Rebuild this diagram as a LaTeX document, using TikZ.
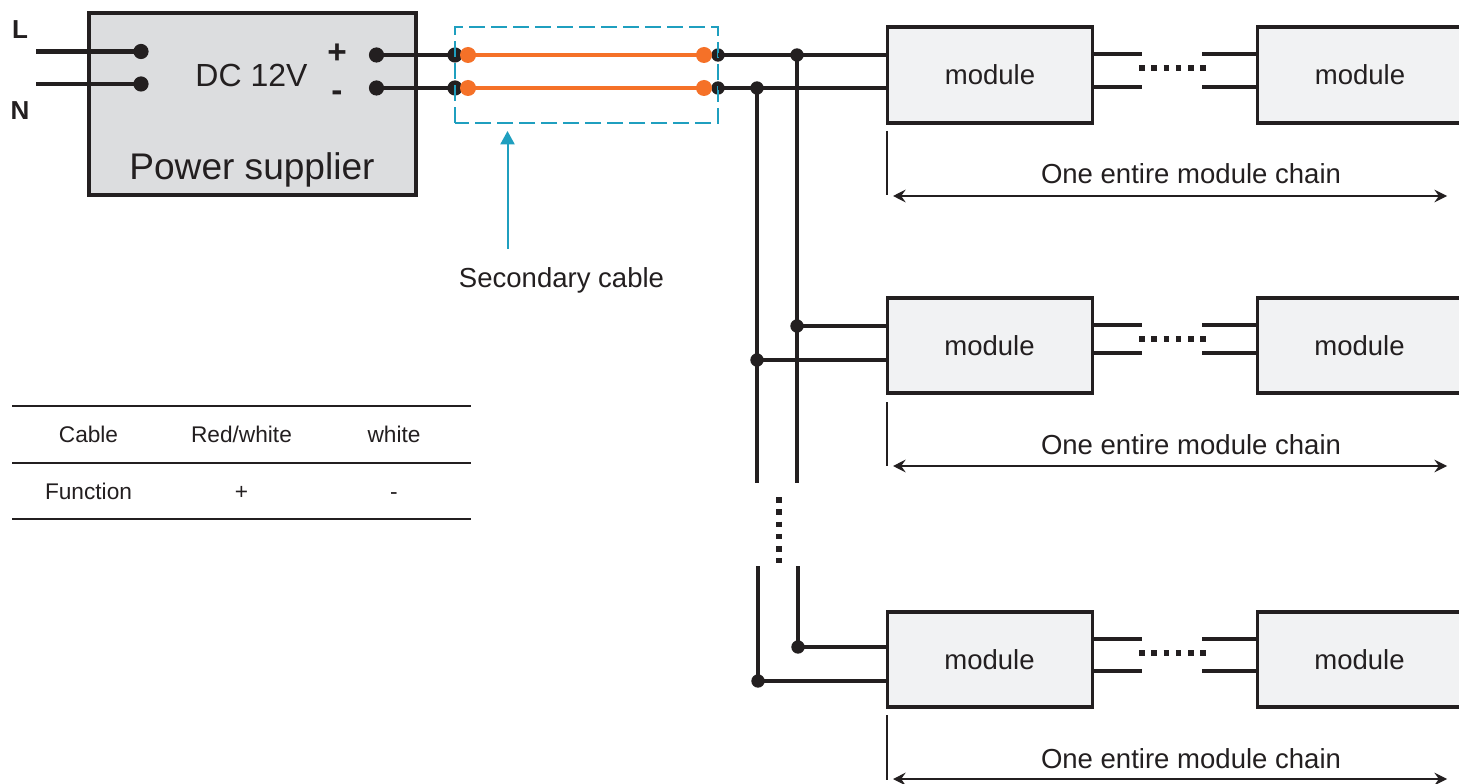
\documentclass[tikz,border=0pt]{standalone}
\usepackage{fontspec}
\setmainfont{Liberation Sans}
\usetikzlibrary{arrows.meta,calc}
\definecolor{ink}{HTML}{231F20}
\definecolor{psu}{HTML}{DCDDDF}
\definecolor{modfill}{HTML}{F1F2F3}
\definecolor{wireorange}{HTML}{F57128}
\definecolor{cablecyan}{HTML}{1F9FBF}
\newcommand{\pxfont}[1]{\fontsize{#1}{#1}\selectfont}
\tikzset{
  x=0.75pt,y=-0.75pt,
  every node/.style={text=ink,inner sep=0pt,outer sep=0pt},
  txt/.style={anchor=base,font=\pxfont{20.65pt}},
  tabletxt/.style={anchor=base,font=\pxfont{17pt}},
  psubox/.style={draw=ink,fill=psu,line width=3.1pt,minimum width=245.25pt,minimum height=136.8pt},
  modbox/.style={draw=ink,fill=modfill,line width=2.9pt,minimum width=153.75pt,minimum height=71.6pt},
  dotnode/.style={circle,fill=ink,minimum size=10pt},
  bigdot/.style={circle,fill=ink,minimum size=11.4pt},
  odot/.style={circle,fill=wireorange,minimum size=12pt},
  heavywire/.style={draw=ink,line width=3.7pt},
  wire/.style={draw=ink,line width=2.9pt},
  thinwire/.style={draw=ink,line width=2.6pt},
  orangewire/.style={draw=wireorange,line width=3.7pt},
  dots/.style={draw=ink,line width=4.2pt,dash pattern=on 4.2pt off 5pt},
  tick/.style={draw=ink,line width=1.9pt},
  span/.style={draw=ink,line width=1pt,{Stealth[length=9.5pt,width=9.5pt,inset=3.4pt]}-{Stealth[length=9.5pt,width=9.5pt,inset=3.4pt]}},
  rule/.style={draw=ink,line width=1.5pt}
}
\begin{document}
\begin{tikzpicture}
\useasboundingbox (0,0) rectangle (1459,784);
\fill[white] (0,0) rectangle (1459,784);
% power supply
\node[psubox] (psu) at (252.9,104.1) {};
\node[txt,font=\pxfont{24pt}] (dc) at (251.5,87) {DC 12V};
\node[txt,font=\pxfont{27.8pt}] (ps) at (252,180) {Power supplier};
\node[txt,font=\bfseries\pxfont{25pt}] (plus) at (337,64) {+};
\node[txt,font=\bfseries\pxfont{25pt}] (minus) at (337,102) {-};
\node[txt,font=\bfseries\pxfont{19.5pt}] (L) at (20,38.5) {L};
\node[txt,font=\bfseries\pxfont{19.5pt}] (N) at (20,120) {N};
\coordinate (lin) at (36,51.5);
\coordinate (nin) at (36,84);
\node[bigdot] (ldot) at (141,51.5) {};
\node[bigdot] (ndot) at (141,84) {};
\draw[heavywire] (lin) -- (ldot.center);
\draw[heavywire] (nin) -- (ndot.center);
% outputs and secondary cable
\node[bigdot] (pout) at (376.5,55) {};
\node[bigdot] (mout) at (376.5,88) {};
\node[bigdot] (pa) at (455,55) {};
\node[bigdot] (ma) at (455,88) {};
\node[dotnode] (pb) at (718,55) {};
\node[dotnode] (mb) at (718,88) {};
\draw[heavywire] (pout.center) -- (pa.center);
\draw[heavywire] (mout.center) -- (ma.center);
\node[odot] (oa) at (468,55) {};
\node[odot] (ob) at (468,88) {};
\node[odot] (oc) at (704,55) {};
\node[odot] (od) at (704,88) {};
\draw[orangewire] (oa.center) -- (oc.center);
\draw[orangewire] (ob.center) -- (od.center);
\draw[draw=cablecyan,line width=1.5pt,dash pattern=on 12pt off 4.5pt] (455,123) -- (455,27) -- (718,27) -- (718,123) -- cycle;
\coordinate (atail) at (507.5,249);
\coordinate (ahead) at (507.5,131);
\draw[draw=cablecyan,line width=1.5pt,-{Triangle[length=10pt,width=10.5pt]}] (atail) -- (ahead);
\node[txt] (sec) at (561.5,287) {Secondary cable};
% rows of modules
\foreach \r/\cy/\wa/\wb/\sa/\sb/\dy/\ty/\lo/\hi/\ay/\xa/\xb/\mx in {
  1/75/55/88/54/87/68/184/131/195/196/757/797/990,
  2/345.5/326/360/325/353/339/454/402/466/466/757/797/989.5,
  3/659.5/647/681/639/671/653/768/715/780/779/758/798/989.5}{
  \node[modbox] (ma\r) at (990,\cy) {};
  \node[modbox] (mb\r) at (1360,\cy) {};
  \node[txt] (tma\r) at (\mx,\cy+9.5) {module};
  \node[txt] (tmb\r) at (\mx+370,\cy+9.5) {module};
  \node[dotnode] (jp\r) at (\xb,\wa) {};
  \node[dotnode] (jm\r) at (\xa,\wb) {};
  \coordinate (sp\r) at (1142,\sa);
  \coordinate (sm\r) at (1142,\sb);
  \coordinate (tp\r) at (1202,\sa);
  \coordinate (tm\r) at (1202,\sb);
  \draw[thinwire] (jp\r.center) -- (jp\r.center -| ma\r.west);
  \draw[thinwire] (jm\r.center) -- (jm\r.center -| ma\r.west);
  \draw[wire] (sp\r -| ma\r.east) -- (sp\r);
  \draw[wire] (sm\r -| ma\r.east) -- (sm\r);
  \draw[wire] (tp\r) -- (tp\r -| mb\r.west);
  \draw[wire] (tm\r) -- (tm\r -| mb\r.west);
  \coordinate (da\r) at (1139,\dy);
  \coordinate (db\r) at (1206.5,\dy);
  \draw[dots] (da\r) -- (db\r);
  \coordinate (ta\r) at (887,\lo);
  \coordinate (tb\r) at (887,\hi);
  \draw[tick] (ta\r) -- (tb\r);
  \coordinate (al\r) at (893,\ay);
  \coordinate (ar\r) at (1447,\ay);
  \draw[span] (al\r) -- (ar\r);
  \node[txt] (chain\r) at (1191,\ty) {One entire module chain};
}
% feed from secondary cable
\draw[thinwire] (pb.center) -- (jp1.center) -- (ma1.west |- jp1.center);
\draw[thinwire] (mb.center) -- (jm1.center) -- (ma1.west |- jm1.center);
\coordinate (vmend) at (757,483);
\coordinate (vpend) at (797,483);
\coordinate (vmstart) at (758,566);
\coordinate (vpstart) at (798,566);
\draw[thinwire] (jm1.center) -- (vmend);
\draw[thinwire] (jp1.center) -- (vpend);
\draw[thinwire] (vmstart) -- (jm3.center);
\draw[thinwire] (vpstart) -- (jp3.center);
\coordinate (vda) at (779,497);
\coordinate (vdb) at (779,563);
\draw[dots] (vda) -- (vdb);
% table
\foreach \n/\y in {a/406,b/463,c/519}{
  \coordinate (rl\n) at (12,\y);
  \coordinate (rr\n) at (471,\y);
  \draw[rule] (rl\n) -- (rr\n);
}
\node[tabletxt] (t11) at (88.5,442) {Cable};
\node[tabletxt] (t12) at (241.5,442) {Red/white};
\node[tabletxt] (t13) at (394,442) {white};
\node[tabletxt] (t21) at (88.5,499) {Function};
\node[tabletxt] (t22) at (241.5,499) {+};
\node[tabletxt] (t23) at (394,499) {-};
\end{tikzpicture}
\end{document}
